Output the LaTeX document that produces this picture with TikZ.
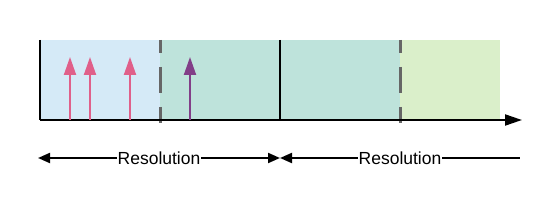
\documentclass[tikz,border=0pt]{standalone}
\usepackage{fontspec}
\setmainfont{Liberation Sans}
\usetikzlibrary{arrows.meta}
\definecolor{cblue}{HTML}{D5EAF7}
\definecolor{cmint}{HTML}{BEE3DB}
\definecolor{clight}{HTML}{DAEFCA}
\definecolor{cpink}{HTML}{E0608A}
\definecolor{cpurple}{HTML}{823E88}
\definecolor{cdash}{HTML}{666666}
\tikzset{
  region/.style={draw=none},
  blackline/.style={line width=2pt, black},
  dashline/.style={line width=3pt, cdash, dash pattern=on 26pt off 14pt, dash phase=13pt},
  event/.style={line width=2pt, -{Triangle[length=18pt,width=12pt]}},
  axisarrow/.style={line width=2pt, -{Triangle[length=17pt,width=11pt]}},
  dimarrow/.style={line width=2pt, {Triangle[length=12pt,width=10pt]}-{Triangle[length=12pt,width=10pt]}},
  dimarrowL/.style={line width=2pt, {Triangle[length=12pt,width=10pt]}-},
  lbl/.style={fill=white, inner sep=1pt, font=\fontsize{17.5pt}{19pt}\selectfont}
}
\begin{document}
\begin{tikzpicture}[x=1pt,y=-1pt]
\useasboundingbox (0,0) rectangle (560,211);
% regions
\fill[cblue] (40,40) rectangle (160,120);
\fill[cmint] (160,40) rectangle (400,120);
\fill[clight] (400,40) rectangle (500,120);
% coordinates
\coordinate (o) at (40,120);
\coordinate (otop) at (40,40);
\coordinate (axend) at (522,120);
\coordinate (mid) at (280,120);
\coordinate (midtop) at (280,40);
\coordinate (d1b) at (160,123);
\coordinate (d1t) at (160,40);
\coordinate (d2b) at (400,123);
\coordinate (d2t) at (400,40);
% lines
\draw[blackline] (otop) -- (o);
\draw[blackline] (midtop) -- (mid);
\draw[dashline] (d1t) -- (d1b);
\draw[dashline] (d2t) -- (d2b);
\draw[axisarrow] (o) -- (axend);
% events
\coordinate (e1b) at (70,120); \coordinate (e1t) at (70,57);
\coordinate (e2b) at (90,120); \coordinate (e2t) at (90,57);
\coordinate (e3b) at (130,120); \coordinate (e3t) at (130,57);
\coordinate (e4b) at (190,120); \coordinate (e4t) at (190,57);
\draw[event, cpink] (e1b) -- (e1t);
\draw[event, cpink] (e2b) -- (e2t);
\draw[event, cpink] (e3b) -- (e3t);
\draw[event, cpurple] (e4b) -- (e4t);
% resolution dims
\coordinate (r1a) at (38,158);
\coordinate (r1b) at (280,158);
\coordinate (r2a) at (280,158);
\coordinate (r2b) at (520,158);
\draw[dimarrow] (r1a) -- (r1b) node[lbl, pos=0.5] (res1) {Resolution};
\draw[dimarrowL] (r2a) -- (r2b) node[lbl, pos=0.5] (res2) {Resolution};
\end{tikzpicture}
\end{document}
